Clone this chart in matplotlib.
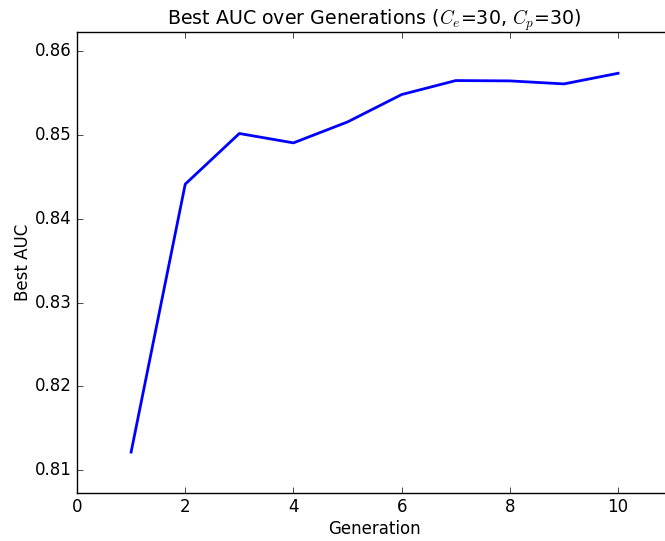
import matplotlib
matplotlib.use('Agg')
import matplotlib.pyplot as plt
from matplotlib.ticker import FormatStrFormatter

plt.style.use('classic')

# data
generations = [1, 2, 3, 4, 5, 6, 7, 8, 9, 10]
best_auc = [0.81215, 0.84413, 0.85018, 0.84906, 0.85156,
            0.85483, 0.85650, 0.85646, 0.85610, 0.85737]
x_ticks = [0, 2, 4, 6, 8, 10]
y_ticks = [0.81, 0.82, 0.83, 0.84, 0.85, 0.86]

fig = plt.figure(figsize=(6.65, 5.41), dpi=100)
fig.patch.set_facecolor('white')
ax = fig.add_axes([0.1158, 0.0893, 0.895, 0.8516])

ax.plot(generations, best_auc, color='b', lw=2)

ax.set_xlim(0, 11)
ax.set_ylim(0.8073, 0.8623)
ax.set_xticks(x_ticks)
ax.set_yticks(y_ticks)
ax.yaxis.set_major_formatter(FormatStrFormatter('%.2f'))
ax.tick_params(labelsize=12)

ax.set_title(r'Best AUC over Generations ($C_e$=30, $C_p$=30)', fontsize=13.7)
ax.set_xlabel('Generation', fontsize=12, labelpad=3)
ax.set_ylabel('Best AUC', fontsize=12, labelpad=2)

fig.savefig('out.png', dpi=100, facecolor='white')
